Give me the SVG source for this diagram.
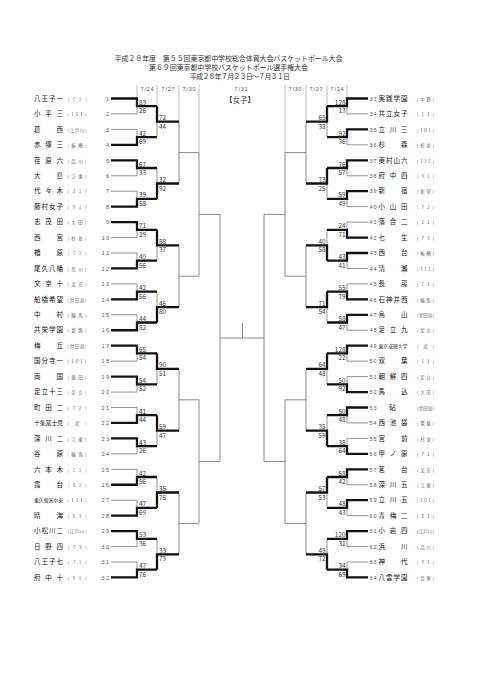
<svg xmlns="http://www.w3.org/2000/svg" width="481" height="680" viewBox="0 0 481 680">
<style>
text{font-family:"Noto Sans CJK JP","Noto Sans CJK SC",sans-serif}
.nm{font-size:6.5px;fill:#111}
.n5{font-size:5.8px}
.n6{font-size:4.8px}
.cd{font-size:4.5px;fill:#666}
.nl{font-family:"Liberation Sans",sans-serif;font-size:5.5px;fill:#555;letter-spacing:1.5px;text-anchor:end}
.nr{font-family:"Liberation Sans",sans-serif;font-size:5.5px;fill:#555;letter-spacing:1px}
.sc{font-family:"Liberation Sans",sans-serif;font-size:6.4px;fill:#333}
.sr{text-anchor:end}
.tt{font-size:7px;fill:#333}
.dt{font-family:"Liberation Sans",sans-serif;font-size:5.5px;fill:#555;letter-spacing:0.8px;text-anchor:middle}
.w{fill:none;stroke:#111;stroke-width:2.3}
.l{fill:none;stroke:#888;stroke-width:0.9}
.g{fill:none;stroke:#888;stroke-width:1}
.h{fill:none;stroke:#aaa;stroke-width:0.8}
</style>
<rect width="481" height="680" fill="#fff"/>
<g id="title">
<text class="tt" x="114.5" y="61" textLength="228">平成２８年度　第５５回東京都中学校総合体育大会バスケットボール大会</text>
<text class="tt" x="149" y="70" textLength="159">第６９回東京都中学校バスケットボール選手権大会</text>
<text class="tt" x="190" y="78.5" textLength="100">平成２８年７月２３日～７月３１日</text>
</g>
<g id="dates">
<text class="dt" x="147.5" y="90.5">7/24</text>
<text class="dt" x="168.5" y="90.5">7/27</text>
<text class="dt" x="189.5" y="90.5">7/30</text>
<text class="dt" x="241.5" y="90.5">7/31</text>
<text class="dt" x="295.5" y="90.5">7/30</text>
<text class="dt" x="316.5" y="90.5">7/27</text>
<text class="dt" x="337.5" y="90.5">7/24</text>
<text class="tt" x="240" y="102.5" text-anchor="middle" style="font-size:7.5px">【女子】</text>
</g>
<g id="connectors">
<path class="h" d="M137 85V98.5M157 85V106.2M179 85V121.7M199 85V152.6M347 85V98.5M327 85V106.2M306 85V121.7M285 85V152.6"/>
<path class="g" d="M179 121.7V183.5M179 152.6H199M179 245.3V307.1M179 276.2H199M179 368.9V430.7M179 399.8H199M179 492.5V554.3M179 523.4H199M199 152.6V276.2M199 214.4H220M199 399.8V523.4M199 461.6H220M220 214.4V461.6M220 338H264M264 214.4V461.6M242.5 323V338M306 121.7V183.5M306 152.6H285M306 245.3V307.1M306 276.2H285M306 368.9V430.7M306 399.8H285M306 492.5V554.3M306 523.4H285M285 152.6V276.2M285 214.4H264M285 399.8V523.4M285 461.6H264"/>
<path class="l" d="M111 113.95H137V106.2M111 129.4H137V137.1M111 175.75H137V168M111 191.2H137V198.9M111 237.55H137V229.8M111 253H137V260.7M111 283.9H137V291.6M111 314.8H137V322.5M111 361.15H137V353.4M111 392.05H137V384.3M111 407.5H137V415.2M111 453.85H137V446.1M111 469.3H137V477M111 500.2H137V507.9M111 546.55H137V538.8M111 562H137V569.7"/>
<path class="l" d="M157 137.1V121.7M157 168V183.5M157 260.7V245.3M157 291.6V307.1M157 384.3V368.9M157 446.1V430.7M157 477V492.5M157 538.8V554.3"/>
<path class="l" d="M368 113.95H347V106.2M368 144.85H347V137.1M368 175.75H347V168M368 206.65H347V198.9M368 222.1H347V229.8M368 268.45H347V260.7M368 283.9H347V291.6M368 330.25H347V322.5M368 361.15H347V353.4M368 376.6H347V384.3M368 422.95H347V415.2M368 438.4H347V446.1M368 484.75H347V477M368 515.65H347V507.9M368 546.55H347V538.8M368 562H347V569.7"/>
<path class="l" d="M327 137.1V121.7M327 198.9V183.5M327 229.8V245.3M327 322.5V307.1M327 384.3V368.9M327 415.2V430.7M327 507.9V492.5M327 538.8V554.3"/>
<path class="w" d="M111 98.5H137V106.2H157M111 144.85H137V137.1H157M111 160.3H137V168H157M111 206.65H137V198.9H157M111 222.1H137V229.8H157M111 268.45H137V260.7H157M111 299.35H137V291.6H157M111 330.25H137V322.5H157M111 345.7H137V353.4H157M111 376.6H137V384.3H157M111 422.95H137V415.2H157M111 438.4H137V446.1H157M111 484.75H137V477H157M111 515.65H137V507.9H157M111 531.1H137V538.8H157M111 577.45H137V569.7H157"/>
<path class="w" d="M157 106.2V121.7H179M157 198.9V183.5H179M157 229.8V245.3H179M157 322.5V307.1H179M157 353.4V368.9H179M157 415.2V430.7H179M157 507.9V492.5H179M157 569.7V554.3H179"/>
<path class="w" d="M368 98.5H347V106.2H327M368 129.4H347V137.1H327M368 160.3H347V168H327M368 191.2H347V198.9H327M368 237.55H347V229.8H327M368 253H347V260.7H327M368 299.35H347V291.6H327M368 314.8H347V322.5H327M368 345.7H347V353.4H327M368 392.05H347V384.3H327M368 407.5H347V415.2H327M368 453.85H347V446.1H327M368 469.3H347V477H327M368 500.2H347V507.9H327M368 531.1H347V538.8H327M368 577.45H347V569.7H327"/>
<path class="w" d="M327 106.2V121.7H306M327 168V183.5H306M327 260.7V245.3H306M327 291.6V307.1H306M327 353.4V368.9H306M327 446.1V430.7H306M327 477V492.5H306M327 569.7V554.3H306"/>
</g>
<g id="scores">
<g class="sc">
<text x="139" y="104.7">83</text><text x="139" y="113.2">26</text>
<text x="139" y="135.6">42</text><text x="139" y="144.1">69</text>
<text x="139" y="166.5">67</text><text x="139" y="175">33</text>
<text x="139" y="197.4">39</text><text x="139" y="205.9">58</text>
<text x="139" y="228.3">71</text><text x="139" y="236.8">29</text>
<text x="139" y="259.2">40</text><text x="139" y="267.7">56</text>
<text x="139" y="290.1">42</text><text x="139" y="298.6">56</text>
<text x="139" y="321">44</text><text x="139" y="329.5">82</text>
<text x="139" y="351.9">65</text><text x="139" y="360.4">54</text>
<text x="139" y="382.8">54</text><text x="139" y="391.3">52</text>
<text x="139" y="413.7">41</text><text x="139" y="422.2">44</text>
<text x="139" y="444.6">43</text><text x="139" y="453.1">26</text>
<text x="139" y="475.5">42</text><text x="139" y="484">56</text>
<text x="139" y="506.4">47</text><text x="139" y="514.9">69</text>
<text x="139" y="537.3">53</text><text x="139" y="545.8">36</text>
<text x="139" y="568.2">47</text><text x="139" y="576.7">76</text>
<text x="159" y="120.2">72</text><text x="159" y="128.7">44</text>
<text x="159" y="182">32</text><text x="159" y="190.5">92</text>
<text x="159" y="243.8">88</text><text x="159" y="252.3">37</text>
<text x="159" y="305.6">46</text><text x="159" y="314.1">80</text>
<text x="159" y="367.4">90</text><text x="159" y="375.9">51</text>
<text x="159" y="429.2">59</text><text x="159" y="437.7">47</text>
<text x="159" y="491">35</text><text x="159" y="499.5">76</text>
<text x="159" y="552.8">33</text><text x="159" y="561.3">73</text>
</g>
<g class="sc sr">
<text x="345.5" y="104.7">128</text><text x="345.5" y="113.2">13</text>
<text x="345.5" y="135.6">92</text><text x="345.5" y="144.1">36</text>
<text x="345.5" y="166.5">76</text><text x="345.5" y="175">57</text>
<text x="345.5" y="197.4">59</text><text x="345.5" y="205.9">49</text>
<text x="345.5" y="228.3">24</text><text x="345.5" y="236.8">71</text>
<text x="345.5" y="259.2">43</text><text x="345.5" y="267.7">41</text>
<text x="345.5" y="290.1">55</text><text x="345.5" y="298.6">79</text>
<text x="345.5" y="321">58</text><text x="345.5" y="329.5">47</text>
<text x="345.5" y="351.9">128</text><text x="345.5" y="360.4">22</text>
<text x="345.5" y="382.8">50</text><text x="345.5" y="391.3">92</text>
<text x="345.5" y="413.7">50</text><text x="345.5" y="422.2">48</text>
<text x="345.5" y="444.6">38</text><text x="345.5" y="453.1">64</text>
<text x="345.5" y="475.5">58</text><text x="345.5" y="484">42</text>
<text x="345.5" y="506.4">48</text><text x="345.5" y="514.9">43</text>
<text x="345.5" y="537.3">120</text><text x="345.5" y="545.8">31</text>
<text x="345.5" y="568.2">34</text><text x="345.5" y="576.7">69</text>
<text x="325.5" y="120.2">65</text><text x="325.5" y="128.7">38</text>
<text x="325.5" y="182">73</text><text x="325.5" y="190.5">25</text>
<text x="325.5" y="243.8">40</text><text x="325.5" y="252.3">58</text>
<text x="325.5" y="305.6">71</text><text x="325.5" y="314.1">54</text>
<text x="325.5" y="367.4">64</text><text x="325.5" y="375.9">48</text>
<text x="325.5" y="429.2">35</text><text x="325.5" y="437.7">59</text>
<text x="325.5" y="491">57</text><text x="325.5" y="499.5">53</text>
<text x="325.5" y="552.8">49</text><text x="325.5" y="561.3">72</text>
</g>
</g>
<g id="teams-left">
<g id="t1" transform="translate(0 98.5)"><text class="nm" x="34" y="2.2" textLength="29">八王子一</text><text class="cd" x="67.5" y="2.2" textLength="19">(71)</text><text class="nl" x="110.5" y="2.2">1</text></g>
<g id="t2" transform="translate(0 113.95)"><text class="nm" x="34" y="2.2" textLength="29">小平三</text><text class="cd" x="67.5" y="2.2" textLength="19">(101)</text><text class="nl" x="110.5" y="2.2">2</text></g>
<g id="t3" transform="translate(0 129.4)"><text class="nm" x="34" y="2.2" textLength="29">葛西</text><text class="cd" x="67.5" y="2.2" textLength="19">(江戸川)</text><text class="nl" x="110.5" y="2.2">3</text></g>
<g id="t4" transform="translate(0 144.85)"><text class="nm" x="34" y="2.2" textLength="29">赤塚三</text><text class="cd" x="67.5" y="2.2" textLength="19">(板橋)</text><text class="nl" x="110.5" y="2.2">4</text></g>
<g id="t5" transform="translate(0 160.3)"><text class="nm" x="34" y="2.2" textLength="29">荏原六</text><text class="cd" x="67.5" y="2.2" textLength="19">(品川)</text><text class="nl" x="110.5" y="2.2">5</text></g>
<g id="t6" transform="translate(0 175.75)"><text class="nm" x="34" y="2.2" textLength="29">大島</text><text class="cd" x="67.5" y="2.2" textLength="19">(江東)</text><text class="nl" x="110.5" y="2.2">6</text></g>
<g id="t7" transform="translate(0 191.2)"><text class="nm" x="34" y="2.2" textLength="29">代々木</text><text class="cd" x="67.5" y="2.2" textLength="19">(21)</text><text class="nl" x="110.5" y="2.2">7</text></g>
<g id="t8" transform="translate(0 206.65)"><text class="nm" x="34" y="2.2" textLength="29">藤村女子</text><text class="cd" x="67.5" y="2.2" textLength="19">(91)</text><text class="nl" x="110.5" y="2.2">8</text></g>
<g id="t9" transform="translate(0 222.1)"><text class="nm" x="34" y="2.2" textLength="29">志茂田</text><text class="cd" x="67.5" y="2.2" textLength="19">(大田)</text><text class="nl" x="110.5" y="2.2">9</text></g>
<g id="t10" transform="translate(0 237.55)"><text class="nm" x="34" y="2.2" textLength="29">西宮</text><text class="cd" x="67.5" y="2.2" textLength="19">(杉並)</text><text class="nl" x="110.5" y="2.2">10</text></g>
<g id="t11" transform="translate(0 253)"><text class="nm" x="34" y="2.2" textLength="29">楢原</text><text class="cd" x="67.5" y="2.2" textLength="19">(71)</text><text class="nl" x="110.5" y="2.2">11</text></g>
<g id="t12" transform="translate(0 268.45)"><text class="nm" x="34" y="2.2" textLength="29">尾久八幡</text><text class="cd" x="67.5" y="2.2" textLength="19">(荒川)</text><text class="nl" x="110.5" y="2.2">12</text></g>
<g id="t13" transform="translate(0 283.9)"><text class="nm" x="34" y="2.2" textLength="29">文京十</text><text class="cd" x="67.5" y="2.2" textLength="19">(文京)</text><text class="nl" x="110.5" y="2.2">13</text></g>
<g id="t14" transform="translate(0 299.35)"><text class="nm" x="34" y="2.2" textLength="29">船橋希望</text><text class="cd" x="67.5" y="2.2" textLength="19">(世田谷)</text><text class="nl" x="110.5" y="2.2">14</text></g>
<g id="t15" transform="translate(0 314.8)"><text class="nm" x="34" y="2.2" textLength="29">中村</text><text class="cd" x="67.5" y="2.2" textLength="19">(練馬)</text><text class="nl" x="110.5" y="2.2">15</text></g>
<g id="t16" transform="translate(0 330.25)"><text class="nm" x="34" y="2.2" textLength="29">共栄学園</text><text class="cd" x="67.5" y="2.2" textLength="19">(葛飾)</text><text class="nl" x="110.5" y="2.2">16</text></g>
<g id="t17" transform="translate(0 345.7)"><text class="nm" x="34" y="2.2" textLength="29">梅丘</text><text class="cd" x="67.5" y="2.2" textLength="19">(世田谷)</text><text class="nl" x="110.5" y="2.2">17</text></g>
<g id="t18" transform="translate(0 361.15)"><text class="nm" x="34" y="2.2" textLength="29">国分寺一</text><text class="cd" x="67.5" y="2.2" textLength="19">(101)</text><text class="nl" x="110.5" y="2.2">18</text></g>
<g id="t19" transform="translate(0 376.6)"><text class="nm" x="34" y="2.2" textLength="29">両国</text><text class="cd" x="67.5" y="2.2" textLength="19">(墨田)</text><text class="nl" x="110.5" y="2.2">19</text></g>
<g id="t20" transform="translate(0 392.05)"><text class="nm" x="34" y="2.2" textLength="29">足立十三</text><text class="cd" x="67.5" y="2.2" textLength="19">(足立)</text><text class="nl" x="110.5" y="2.2">20</text></g>
<g id="t21" transform="translate(0 407.5)"><text class="nm" x="34" y="2.2" textLength="29">町田二</text><text class="cd" x="67.5" y="2.2" textLength="19">(72)</text><text class="nl" x="110.5" y="2.2">21</text></g>
<g id="t22" transform="translate(0 422.95)"><text class="nm n5" x="34" y="2.2" textLength="29">十条富士見</text><text class="cd" x="67.5" y="2.2" textLength="19">(北)</text><text class="nl" x="110.5" y="2.2">22</text></g>
<g id="t23" transform="translate(0 438.4)"><text class="nm" x="34" y="2.2" textLength="29">深川二</text><text class="cd" x="67.5" y="2.2" textLength="19">(江東)</text><text class="nl" x="110.5" y="2.2">23</text></g>
<g id="t24" transform="translate(0 453.85)"><text class="nm" x="34" y="2.2" textLength="29">谷原</text><text class="cd" x="67.5" y="2.2" textLength="19">(練馬)</text><text class="nl" x="110.5" y="2.2">24</text></g>
<g id="t25" transform="translate(0 469.3)"><text class="nm" x="34" y="2.2" textLength="29">六本木</text><text class="cd" x="67.5" y="2.2" textLength="19">(11)</text><text class="nl" x="110.5" y="2.2">25</text></g>
<g id="t26" transform="translate(0 484.75)"><text class="nm" x="34" y="2.2" textLength="29">霞台</text><text class="cd" x="67.5" y="2.2" textLength="19">(81)</text><text class="nl" x="110.5" y="2.2">26</text></g>
<g id="t27" transform="translate(0 500.2)"><text class="nm n6" x="34" y="2.2" textLength="29">東久留米中央</text><text class="cd" x="67.5" y="2.2" textLength="19">(111)</text><text class="nl" x="110.5" y="2.2">27</text></g>
<g id="t28" transform="translate(0 515.65)"><text class="nm" x="34" y="2.2" textLength="29">晴海</text><text class="cd" x="67.5" y="2.2" textLength="19">(53)</text><text class="nl" x="110.5" y="2.2">28</text></g>
<g id="t29" transform="translate(0 531.1)"><text class="nm" x="34" y="2.2" textLength="29">小松川二</text><text class="cd" x="67.5" y="2.2" textLength="19">(江戸川)</text><text class="nl" x="110.5" y="2.2">29</text></g>
<g id="t30" transform="translate(0 546.55)"><text class="nm" x="34" y="2.2" textLength="29">日野四</text><text class="cd" x="67.5" y="2.2" textLength="19">(73)</text><text class="nl" x="110.5" y="2.2">30</text></g>
<g id="t31" transform="translate(0 562)"><text class="nm" x="34" y="2.2" textLength="29">八王子七</text><text class="cd" x="67.5" y="2.2" textLength="19">(71)</text><text class="nl" x="110.5" y="2.2">31</text></g>
<g id="t32" transform="translate(0 577.45)"><text class="nm" x="34" y="2.2" textLength="29">府中十</text><text class="cd" x="67.5" y="2.2" textLength="19">(91)</text><text class="nl" x="110.5" y="2.2">32</text></g>
</g>
<g id="teams-right">
<g id="t33" transform="translate(0 98.5)"><text class="nr" x="369.5" y="2.2">33</text><text class="nm" x="378.5" y="2.2" textLength="29">実践学園</text><text class="cd" x="417" y="2.2" textLength="17">(中野)</text></g>
<g id="t34" transform="translate(0 113.95)"><text class="nr" x="369.5" y="2.2">34</text><text class="nm" x="378.5" y="2.2" textLength="29">共立女子</text><text class="cd" x="417" y="2.2" textLength="17">(11)</text></g>
<g id="t35" transform="translate(0 129.4)"><text class="nr" x="369.5" y="2.2">35</text><text class="nm" x="378.5" y="2.2" textLength="29">立川三</text><text class="cd" x="417" y="2.2" textLength="17">(101)</text></g>
<g id="t36" transform="translate(0 144.85)"><text class="nr" x="369.5" y="2.2">36</text><text class="nm" x="378.5" y="2.2" textLength="29">杉森</text><text class="cd" x="417" y="2.2" textLength="17">(杉並)</text></g>
<g id="t37" transform="translate(0 160.3)"><text class="nr" x="369.5" y="2.2">37</text><text class="nm" x="378.5" y="2.2" textLength="29">東村山六</text><text class="cd" x="417" y="2.2" textLength="17">(112)</text></g>
<g id="t38" transform="translate(0 175.75)"><text class="nr" x="369.5" y="2.2">38</text><text class="nm" x="378.5" y="2.2" textLength="29">府中四</text><text class="cd" x="417" y="2.2" textLength="17">(91)</text></g>
<g id="t39" transform="translate(0 191.2)"><text class="nr" x="369.5" y="2.2">39</text><text class="nm" x="378.5" y="2.2" textLength="29">新宿</text><text class="cd" x="417" y="2.2" textLength="17">(新宿)</text></g>
<g id="t40" transform="translate(0 206.65)"><text class="nr" x="369.5" y="2.2">40</text><text class="nm" x="378.5" y="2.2" textLength="29">小山田</text><text class="cd" x="417" y="2.2" textLength="17">(72)</text></g>
<g id="t41" transform="translate(0 222.1)"><text class="nr" x="369.5" y="2.2">41</text><text class="nm" x="378.5" y="2.2" textLength="29">落合二</text><text class="cd" x="417" y="2.2" textLength="17">(21)</text></g>
<g id="t42" transform="translate(0 237.55)"><text class="nr" x="369.5" y="2.2">42</text><text class="nm" x="378.5" y="2.2" textLength="29">七生</text><text class="cd" x="417" y="2.2" textLength="17">(73)</text></g>
<g id="t43" transform="translate(0 253)"><text class="nr" x="369.5" y="2.2">43</text><text class="nm" x="378.5" y="2.2" textLength="29">西台</text><text class="cd" x="417" y="2.2" textLength="17">(板橋)</text></g>
<g id="t44" transform="translate(0 268.45)"><text class="nr" x="369.5" y="2.2">44</text><text class="nm" x="378.5" y="2.2" textLength="29">清瀬</text><text class="cd" x="417" y="2.2" textLength="17">(111)</text></g>
<g id="t45" transform="translate(0 283.9)"><text class="nr" x="369.5" y="2.2">45</text><text class="nm" x="378.5" y="2.2" textLength="29">長房</text><text class="cd" x="417" y="2.2" textLength="17">(71)</text></g>
<g id="t46" transform="translate(0 299.35)"><text class="nr" x="369.5" y="2.2">46</text><text class="nm" x="378.5" y="2.2" textLength="29">石神井西</text><text class="cd" x="417" y="2.2" textLength="17">(練馬)</text></g>
<g id="t47" transform="translate(0 314.8)"><text class="nr" x="369.5" y="2.2">47</text><text class="nm" x="378.5" y="2.2" textLength="29">烏山</text><text class="cd" x="417" y="2.2" textLength="17">(世田谷)</text></g>
<g id="t48" transform="translate(0 330.25)"><text class="nr" x="369.5" y="2.2">48</text><text class="nm" x="378.5" y="2.2" textLength="29">足立九</text><text class="cd" x="417" y="2.2" textLength="17">(足立)</text></g>
<g id="t49" transform="translate(0 345.7)"><text class="nr" x="369.5" y="2.2">49</text><text class="nm n6" x="378.5" y="2.2" textLength="29">東京成徳大学</text><text class="cd" x="417" y="2.2" textLength="17">(北)</text></g>
<g id="t50" transform="translate(0 361.15)"><text class="nr" x="369.5" y="2.2">50</text><text class="nm" x="378.5" y="2.2" textLength="29">双葉</text><text class="cd" x="417" y="2.2" textLength="17">(11)</text></g>
<g id="t51" transform="translate(0 376.6)"><text class="nr" x="369.5" y="2.2">51</text><text class="nm" x="378.5" y="2.2" textLength="29">朝鮮四</text><text class="cd" x="417" y="2.2" textLength="17">(足立)</text></g>
<g id="t52" transform="translate(0 392.05)"><text class="nr" x="369.5" y="2.2">52</text><text class="nm" x="378.5" y="2.2" textLength="29">馬込</text><text class="cd" x="417" y="2.2" textLength="17">(大田)</text></g>
<g id="t53" transform="translate(0 407.5)"><text class="nr" x="369.5" y="2.2">53</text><text class="nm" x="392.5" y="2.2" text-anchor="middle">砧</text><text class="cd" x="417" y="2.2" textLength="17">(世田谷)</text></g>
<g id="t54" transform="translate(0 422.95)"><text class="nr" x="369.5" y="2.2">54</text><text class="nm" x="378.5" y="2.2" textLength="29">西池袋</text><text class="cd" x="417" y="2.2" textLength="17">(豊島)</text></g>
<g id="t55" transform="translate(0 438.4)"><text class="nr" x="369.5" y="2.2">55</text><text class="nm" x="378.5" y="2.2" textLength="29">宮前</text><text class="cd" x="417" y="2.2" textLength="17">(杉並)</text></g>
<g id="t56" transform="translate(0 453.85)"><text class="nr" x="369.5" y="2.2">56</text><text class="nm" x="378.5" y="2.2" textLength="29">甲ノ原</text><text class="cd" x="417" y="2.2" textLength="17">(71)</text></g>
<g id="t57" transform="translate(0 469.3)"><text class="nr" x="369.5" y="2.2">57</text><text class="nm" x="378.5" y="2.2" textLength="29">茗台</text><text class="cd" x="417" y="2.2" textLength="17">(文京)</text></g>
<g id="t58" transform="translate(0 484.75)"><text class="nr" x="369.5" y="2.2">58</text><text class="nm" x="378.5" y="2.2" textLength="29">深川五</text><text class="cd" x="417" y="2.2" textLength="17">(江東)</text></g>
<g id="t59" transform="translate(0 500.2)"><text class="nr" x="369.5" y="2.2">59</text><text class="nm" x="378.5" y="2.2" textLength="29">立川五</text><text class="cd" x="417" y="2.2" textLength="17">(101)</text></g>
<g id="t60" transform="translate(0 515.65)"><text class="nr" x="369.5" y="2.2">60</text><text class="nm" x="378.5" y="2.2" textLength="29">青梅二</text><text class="cd" x="417" y="2.2" textLength="17">(81)</text></g>
<g id="t61" transform="translate(0 531.1)"><text class="nr" x="369.5" y="2.2">61</text><text class="nm" x="378.5" y="2.2" textLength="29">小岩四</text><text class="cd" x="417" y="2.2" textLength="17">(江戸川)</text></g>
<g id="t62" transform="translate(0 546.55)"><text class="nr" x="369.5" y="2.2">62</text><text class="nm" x="378.5" y="2.2" textLength="29">浜川</text><text class="cd" x="417" y="2.2" textLength="17">(品川)</text></g>
<g id="t63" transform="translate(0 562)"><text class="nr" x="369.5" y="2.2">63</text><text class="nm" x="378.5" y="2.2" textLength="29">神代</text><text class="cd" x="417" y="2.2" textLength="17">(91)</text></g>
<g id="t64" transform="translate(0 577.45)"><text class="nr" x="369.5" y="2.2">64</text><text class="nm" x="378.5" y="2.2" textLength="29">八雲学園</text><text class="cd" x="417" y="2.2" textLength="17">(目黒)</text></g>
</g>
</svg>
